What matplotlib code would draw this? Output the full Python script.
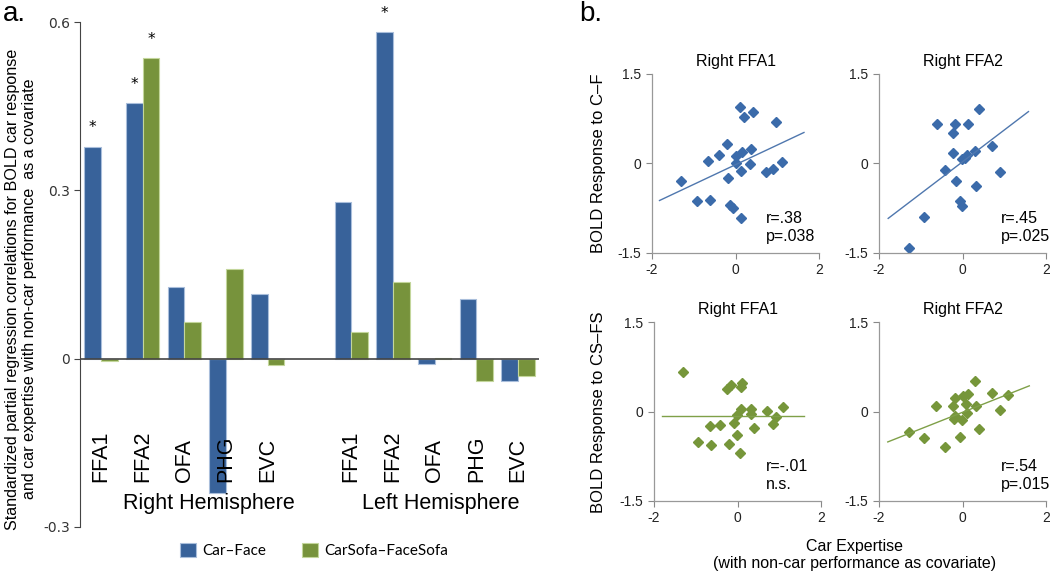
import matplotlib
matplotlib.use('Agg')
import matplotlib.pyplot as plt
import numpy as np

plt.rcParams['font.family'] = ['Liberation Sans', 'DejaVu Sans']

# ---- panel a : bar data ----
regions = ['FFA1', 'FFA2', 'OFA', 'PHG', 'EVC']
hemis = ['Right Hemisphere', 'Left Hemisphere']
car_face_right = [0.378, 0.455, 0.128, -0.240, 0.115]
car_face_left = [0.280, 0.582, -0.009, 0.107, -0.039]
sofa_right = [-0.005, 0.535, 0.065, 0.160, -0.012]
sofa_left = [0.048, 0.136, 0.001, -0.040, -0.030]
star_car_right = [1, 1, 0, 0, 0]
star_car_left = [0, 1, 0, 0, 0]
star_sofa_right = [0, 1, 0, 0, 0]
star_sofa_left = [0, 0, 0, 0, 0]
series_names = ['Car\u2013Face', 'CarSofa\u2013FaceSofa']

# ---- panel b : scatter data (car expertise, BOLD response) ----
cf_ffa1_x = [0.10, 0.41, 0.20, 0.97, -0.21, 0.36, -0.40, 0.16, 0.00, -0.65, 0.02, 0.34,
             1.12, 0.12, 0.74, 0.90, -0.18, -1.30, -0.93, -0.62, -0.14, -0.06, 0.12]
cf_ffa1_y = [0.94, 0.86, 0.78, 0.69, 0.33, 0.25, 0.15, 0.19, 0.12, 0.05, 0.00, -0.01,
             0.02, -0.13, -0.14, -0.09, -0.24, -0.30, -0.63, -0.62, -0.69, -0.75, -0.92]
cf_ffa2_x = [0.40, -0.62, -0.19, 0.13, -0.22, 0.70, 0.30, -0.23, 0.10, 0.05, -0.02, -0.41,
             0.90, -0.16, 0.32, -0.06, -0.01, -0.92, -1.28]
cf_ffa2_y = [0.91, 0.66, 0.67, 0.67, 0.51, 0.30, 0.21, 0.17, 0.14, 0.10, 0.07, -0.11,
             -0.14, -0.30, -0.37, -0.63, -0.71, -0.89, -1.41]
cs_ffa1_x = [-1.31, -0.24, -0.16, 0.11, 0.09, 0.08, 0.32, 1.09, 0.71, -0.01, 0.33, 0.93,
             0.86, -0.67, -0.42, -0.09, 0.39, -0.02, -0.95, -0.64, -0.20, 0.07]
cs_ffa1_y = [0.67, 0.38, 0.44, 0.48, 0.41, 0.04, 0.04, 0.08, 0.01, -0.06, -0.04, -0.10,
             -0.21, -0.25, -0.22, -0.20, -0.28, -0.39, -0.51, -0.56, -0.54, -0.70]
cs_ffa2_x = [0.30, 0.70, 1.08, -0.63, -0.17, 0.02, 0.14, 0.09, -0.22, 0.32, 0.91, 0.10,
             -0.17, -0.20, -0.01, 0.40, -1.29, -0.93, -0.06, -0.41]
cs_ffa2_y = [0.51, 0.31, 0.27, 0.10, 0.22, 0.26, 0.29, 0.13, 0.10, 0.10, 0.03, -0.02,
             -0.07, -0.13, -0.15, -0.30, -0.34, -0.45, -0.43, -0.60]

# regression line end points
fit_x = [[-1.82, 1.64], [-1.78, 1.58], [-1.82, 1.59], [-1.79, 1.60]]
fit_y = [[-0.62, 0.52], [-0.92, 0.87], [-0.07, -0.07], [-0.51, 0.43]]
titles = ['Right FFA1', 'Right FFA2', 'Right FFA1', 'Right FFA2']
stats = ['r=.38\np=.038', 'r=.45\np=.025', 'r=-.01\nn.s.', 'r=.54\np=.015']

blue = '#38629A'
green = '#77933C'
blue_pt = '#3B6BAA'
green_pt = '#76963A'

fig = plt.figure(figsize=(10.5, 5.75), dpi=100)

# ================= panel a =================
ax = fig.add_axes([80/1050, 48/575, 459/1050, 505/575])
pos_right = np.arange(5)
pos_left = np.arange(5) + 6
w = 0.4
car = car_face_right + car_face_left
sofa = sofa_right + sofa_left
pos = np.concatenate([pos_right, pos_left])
b1 = ax.bar(pos - w/2, car, w, color=blue, edgecolor='#A9BEDB', lw=0.8, label=series_names[0])
b2 = ax.bar(pos + w/2, sofa, w, color=green, edgecolor='#C3D69B', lw=0.8, label=series_names[1])

stars_car = star_car_right + star_car_left
stars_sofa = star_sofa_right + star_sofa_left
for p, v, s in zip(pos, car, stars_car):
    if s:
        ax.text(p - w/2, v + 0.02, '*', ha='center', va='bottom', fontsize=11, family='DejaVu Sans')
for p, v, s in zip(pos, sofa, stars_sofa):
    if s:
        ax.text(p + w/2, v + 0.02, '*', ha='center', va='bottom', fontsize=11, family='DejaVu Sans')

for p, r in zip(pos, regions + regions):
    ax.text(p, -0.219, r, rotation=90, ha='center', va='bottom', fontsize=15.5)
ax.text(2.6, -0.258, hemis[0], ha='center', va='center', fontsize=15.5)
ax.text(8.15, -0.258, hemis[1], ha='center', va='center', fontsize=15.5)

ax.axhline(0, color='#444444', lw=1.2)
ax.set_xlim(-0.5, 10.5)
ax.set_ylim(-0.3, 0.6)
ax.set_yticks([-0.3, 0, 0.3, 0.6])
ax.set_yticklabels(['-0.3', '0', '0.3', '0.6'], family='DejaVu Sans', fontsize=10, color='#333333')
ax.set_xticks([])
for sp in ['top', 'right', 'bottom']:
    ax.spines[sp].set_visible(False)
ax.spines['left'].set_color('#444444')
ax.tick_params(axis='y', length=4, color='#444444', pad=3)

fig.text(0.02, 0.497, 'Standardized partial regression correlations for BOLD car response\n'
         'and car expertise with non-car performance  as a covariate',
         rotation=90, ha='center', va='center', fontsize=11.6, multialignment='center',
         linespacing=1.15)
fig.text(0.003, 0.975, 'a.', fontsize=20, ha='left', va='center')

fig.legend(handles=[b1, b2], labels=series_names, loc='center', bbox_to_anchor=(0.299, 0.043),
           ncol=2, frameon=False, handlelength=1.05, handleheight=1.05, columnspacing=2.3,
           handletextpad=0.45, prop={'family': 'Lato', 'size': 11})

# ================= panel b =================
fig.text(579/1050, 1 - 14/575, 'b.', fontsize=20, ha='left', va='center')
boxes = [[652, 74], [879, 74], [654, 322], [879, 322]]
xs = [cf_ffa1_x, cf_ffa2_x, cs_ffa1_x, cs_ffa2_x]
ys = [cf_ffa1_y, cf_ffa2_y, cs_ffa1_y, cs_ffa2_y]
stat_x = [0.68, 0.73, 0.67, 0.73]
for i in range(4):
    x0, y0 = boxes[i]
    a = fig.add_axes([x0/1050, 1 - (y0 + 179)/575, 167/1050, 179/575])
    c_pt = blue_pt if i < 2 else green_pt
    c_ln = '#4F77AE' if i < 2 else '#7FA048'
    a.plot(xs[i], ys[i], 'D', ms=5.2, color=c_pt, mec=c_pt)
    a.plot(fit_x[i], fit_y[i], '-', color=c_ln, lw=1.0)
    a.set_xlim(-2, 2)
    a.set_ylim(-1.5, 1.5)
    a.set_xticks([-2, 0, 2])
    a.set_yticks([-1.5, 0, 1.5])
    a.set_xticklabels(['-2', '0', '2'])
    a.set_yticklabels(['-1.5', '0', '1.5'])
    a.tick_params(labelsize=10, colors='#888888', labelcolor='#222222', length=4, width=0.8)
    for sp in ['top', 'right']:
        a.spines[sp].set_visible(False)
    for sp in ['left', 'bottom']:
        a.spines[sp].set_color('#999999')
        a.spines[sp].set_linewidth(0.9)
    a.set_title(titles[i], fontsize=11.5, pad=6)
    a.text(stat_x[i], 0.235, stats[i], transform=a.transAxes, ha='left', va='top',
           fontsize=11.5, linespacing=1.25)

fig.text(598/1050, 1 - 163/575, 'BOLD Response to C\u2013F', rotation=90, ha='center', va='center', fontsize=12)
fig.text(598/1050, 1 - 412/575, 'BOLD Response to CS\u2013FS', rotation=90, ha='center', va='center', fontsize=12)
fig.text(855/1050, 1 - 555/575, 'Car Expertise\n(with non-car performance as covariate)',
         ha='center', va='center', fontsize=11.5, linespacing=1.1)

fig.savefig('out.png', dpi=100)
